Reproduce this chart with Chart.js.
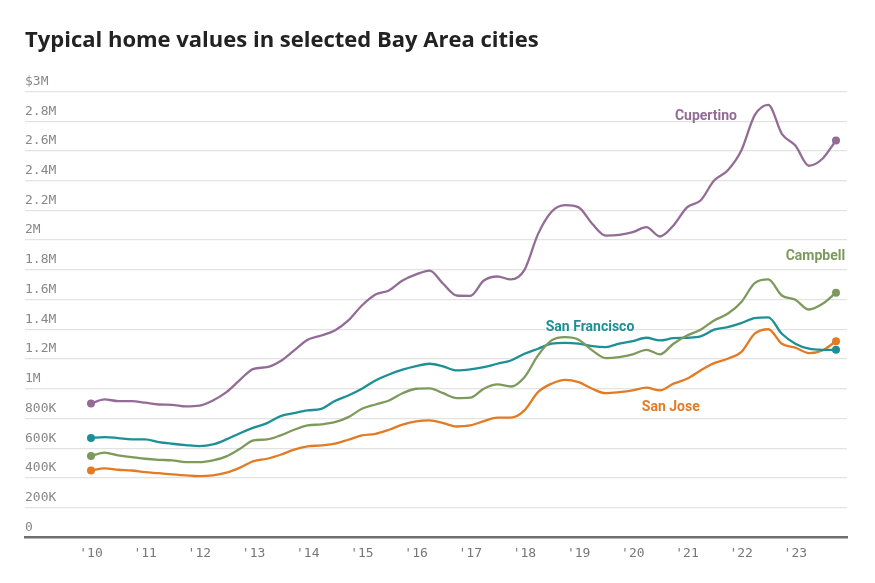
<!DOCTYPE html>
<html>
<head>
<meta charset="utf-8">
<script src="https://cdn.jsdelivr.net/npm/chart.js@4"></script>
<style>
  html, body { margin: 0; padding: 0; background: #fff; }
  #wrap { width: 875px; height: 583px; position: relative; }
</style>
</head>
<body>
<div id="wrap"><canvas id="c" width="875" height="583"></canvas></div>
<script>
// Quarterly sample dates (decimal years)
const dates = [
  2010.0,2010.25,2010.5,2010.75,2011.0,2011.25,2011.5,2011.75,
  2012.0,2012.25,2012.5,2012.75,2013.0,2013.25,2013.5,2013.75,
  2014.0,2014.25,2014.5,2014.75,2015.0,2015.25,2015.5,2015.75,
  2016.0,2016.25,2016.5,2016.75,2017.0,2017.25,2017.5,2017.75,
  2018.0,2018.25,2018.5,2018.75,2019.0,2019.25,2019.5,2019.75,
  2020.0,2020.25,2020.5,2020.75,2021.0,2021.25,2021.5,2021.75,
  2022.0,2022.25,2022.5,2022.75,2023.0,2023.25,2023.5,2023.75
];

// Values in millions of dollars
const cupertino = [
  0.90,0.928,0.917,0.917,0.906,0.894,0.892,0.881,
  0.886,0.921,0.977,1.06,1.134,1.145,1.186,1.258,
  1.33,1.358,1.392,1.46,1.56,1.634,1.661,1.728,
  1.769,1.795,1.706,1.627,1.625,1.728,1.755,1.735,
  1.80,2.04,2.19,2.235,2.22,2.11,2.03,2.035,
  2.053,2.087,2.024,2.098,2.22,2.266,2.40,2.468,
  2.60,2.84,2.91,2.715,2.636,2.50,2.547,2.67
];
const campbell = [
  0.547,0.57,0.551,0.54,0.529,0.522,0.518,0.506,
  0.506,0.518,0.545,0.596,0.652,0.659,0.686,0.724,
  0.753,0.76,0.775,0.809,0.865,0.894,0.921,0.97,
  1.0,1.003,0.97,0.937,0.94,1.0,1.029,1.015,
  1.078,1.224,1.325,1.347,1.33,1.258,1.206,1.213,
  1.231,1.262,1.231,1.303,1.358,1.397,1.459,1.504,
  1.582,1.71,1.735,1.627,1.598,1.533,1.571,1.646
];
const sanFrancisco = [
  0.668,0.675,0.668,0.659,0.659,0.641,0.630,0.621,
  0.614,0.625,0.659,0.701,0.738,0.769,0.816,0.836,
  0.854,0.865,0.917,0.955,1.0,1.056,1.096,1.128,
  1.152,1.168,1.15,1.123,1.13,1.145,1.168,1.19,
  1.235,1.269,1.303,1.309,1.303,1.287,1.28,1.303,
  1.32,1.343,1.325,1.34,1.343,1.352,1.397,1.414,
  1.441,1.475,1.48,1.37,1.303,1.269,1.262,1.262
];
const sanJose = [
  0.45,0.464,0.455,0.45,0.439,0.432,0.424,0.417,
  0.412,0.417,0.435,0.469,0.513,0.529,0.556,0.59,
  0.612,0.619,0.63,0.657,0.686,0.697,0.724,0.758,
  0.78,0.787,0.769,0.746,0.753,0.782,0.805,0.805,
  0.854,0.977,1.034,1.06,1.044,1.0,0.97,0.977,
  0.989,1.007,0.989,1.034,1.067,1.123,1.172,1.202,
  1.246,1.37,1.40,1.303,1.276,1.24,1.258,1.32
];

const cities = ['Cupertino','Campbell','San Francisco','San Jose'];
const yTickValues = [0,0.2,0.4,0.6,0.8,1,1.2,1.4,1.6,1.8,2,2.2,2.4,2.6,2.8,3];
const yTickLabels = ['0','200K','400K','600K','800K','1M','1.2M','1.4M','1.6M','1.8M','2M','2.2M','2.4M','2.6M','2.8M','$3M'];
const xTickValues = [2010,2011,2012,2013,2014,2015,2016,2017,2018,2019,2020,2021,2022,2023];
const xTickLabels = ["'10","'11","'12","'13","'14","'15","'16","'17","'18","'19","'20","'21","'22","'23"];

// Series label anchors (in data units)
const labelYears  = [2021.35, 2023.92, 2019.21, 2020.70];
const labelValues = [2.83, 1.89, 1.41, 0.874];
const labelAlign  = ['center','right','center','center'];

const colors = ['#936c96','#7d9a5c','#1d8f95','#e27b23'];
const seriesValues = [cupertino, campbell, sanFrancisco, sanJose];

const datasets = cities.map((name, i) => ({
  label: name,
  data: dates.map((d, j) => ({x: d, y: seriesValues[i][j]})),
  borderColor: colors[i],
  backgroundColor: colors[i],
  borderWidth: 2.3,
  cubicInterpolationMode: 'monotone',
  pointRadius: ctx => (ctx.dataIndex === 0 || ctx.dataIndex === dates.length - 1) ? 4 : 0,
  pointHoverRadius: 0,
  pointBorderWidth: 0,
  fill: false
}));

const seriesLabelPlugin = {
  id: 'seriesLabels',
  afterDatasetsDraw(chart) {
    const {ctx, scales: {x, y}} = chart;
    ctx.save();
    ctx.font = 'bold 14px Roboto, "Noto Sans", sans-serif';
    ctx.textBaseline = 'middle';
    cities.forEach((name, i) => {
      ctx.fillStyle = colors[i];
      ctx.textAlign = labelAlign[i];
      ctx.fillText(name, x.getPixelForValue(labelYears[i]), y.getPixelForValue(labelValues[i]));
    });
    ctx.restore();
  }
};

new Chart(document.getElementById('c'), {
  type: 'line',
  data: { datasets },
  plugins: [seriesLabelPlugin],
  options: {
    responsive: false,
    animation: false,
    events: [],
    layout: { padding: { left: 25, right: 28, top: 0, bottom: 14 } },
    plugins: {
      legend: { display: false },
      tooltip: { enabled: false },
      title: {
        display: true,
        text: 'Typical home values in selected Bay Area cities',
        align: 'start',
        color: '#222',
        font: { family: '"Open Sans", "Noto Sans", sans-serif', size: 22, weight: 'bold' },
        padding: { top: 28, bottom: 37 }
      }
    },
    scales: {
      x: {
        type: 'linear',
        min: 2008.782,
        max: 2023.953,
        afterBuildTicks: s => { s.ticks = xTickValues.map(v => ({value: v})); },
        ticks: {
          callback: (v) => xTickLabels[xTickValues.indexOf(v)],
          color: '#777',
          font: { family: '"DejaVu Sans Mono", monospace', size: 13 },
          padding: 8,
          maxRotation: 0,
          autoSkip: false
        },
        grid: { display: false, drawTicks: false },
        border: { display: true, color: '#6f6f6f', width: 2.5 }
      },
      y: {
        type: 'linear',
        min: 0,
        max: 3,
        afterBuildTicks: s => { s.ticks = yTickValues.map(v => ({value: v})); },
        ticks: {
          mirror: true,
          padding: 0,
          labelOffset: -10,
          callback: (v) => yTickLabels[yTickValues.indexOf(v)],
          color: '#888',
          font: { family: '"DejaVu Sans Mono", monospace', size: 13 }
        },
        grid: {
          color: ctx => ctx.tick && ctx.tick.value === 0 ? 'rgba(0,0,0,0)' : '#e3e3e3',
          lineWidth: 1.2,
          drawTicks: false
        },
        border: { display: false }
      }
    }
  }
});
</script>
</body>
</html>
